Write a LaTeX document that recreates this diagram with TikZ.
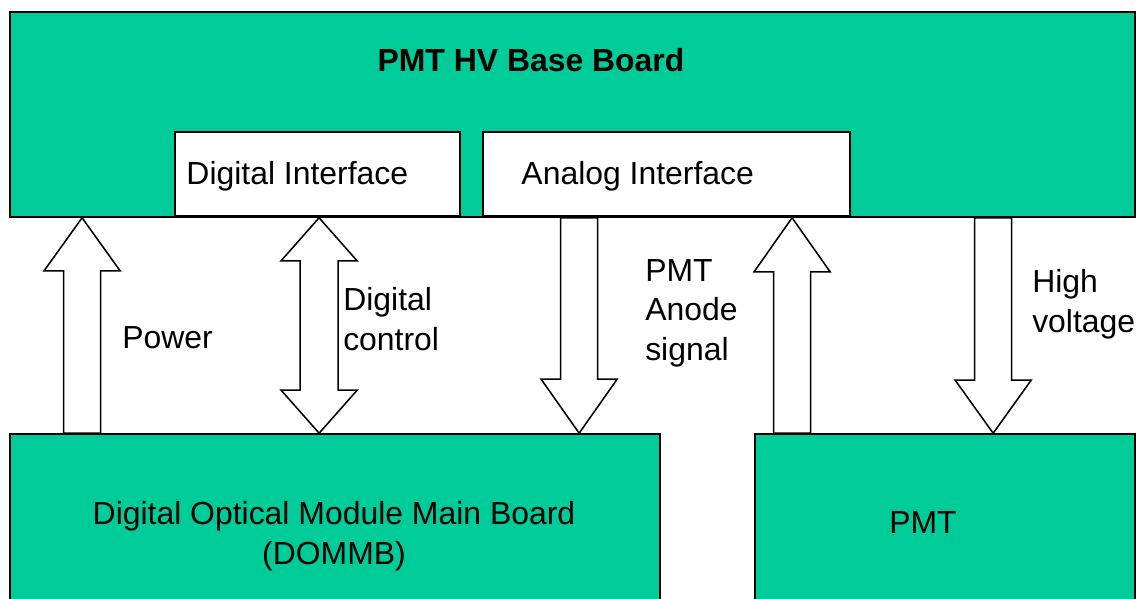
\documentclass[tikz,border=0pt]{standalone}
\usepackage{fontspec}
\setmainfont{Liberation Sans}
\usetikzlibrary{calc}
\definecolor{boardgreen}{RGB}{0,204,153}

% block arrow from #1 (flat end) to #2 (tip), head length #3
\newcommand{\blockarr}[3]{%
  \coordinate (hb) at ($(#2)!#3!(#1)$);
  \draw[blockarrow] ($(#1)+(-18.5,0)$) -- ($(hb)+(-18.5,0)$) -- ($(hb)+(-38,0)$) -- (#2)
    -- ($(hb)+(38,0)$) -- ($(hb)+(18.5,0)$) -- ($(#1)+(18.5,0)$) -- cycle;}
% double block arrow between tips #1 and #2
\newcommand{\blockdbl}[3]{%
  \coordinate (ha) at ($(#1)!#3!(#2)$);
  \coordinate (hb) at ($(#2)!#3!(#1)$);
  \draw[blockarrow] (#1) -- ($(ha)+(38,0)$) -- ($(ha)+(19,0)$) -- ($(hb)+(19,0)$) -- ($(hb)+(38,0)$)
    -- (#2) -- ($(hb)+(-38,0)$) -- ($(hb)+(-19,0)$) -- ($(ha)+(-19,0)$) -- ($(ha)+(-38,0)$) -- cycle;}

\tikzset{
  board/.style={draw, line width=1.1pt, fill=boardgreen, rectangle, inner sep=0pt},
  iface/.style={draw, line width=1.1pt, fill=white, rectangle, inner sep=0pt},
  txt/.style={font=\fontsize{22.7}{28.2}\selectfont, inner sep=0pt, align=left},
  blockarrow/.style={draw, line width=1.1pt, fill=white, line join=miter}
}

\begin{document}
\begin{tikzpicture}[x=0.025cm, y=0.025cm]

    \useasboundingbox (0,0) rectangle (1140,599);

    % Boards
    \node[board, minimum width=28.125cm, minimum height=5.125cm] (board) at (572.5,484.5) {};
    \node[iface, minimum width=7.125cm, minimum height=2.1cm] (digif) at (317.5,425) {};
    \node[iface, minimum width=9.175cm, minimum height=2.1cm] (anaif) at (666.5,425) {};
    \node[board, minimum width=16.25cm, minimum height=4.375cm] (dommb) at (335,77.5) {};
    \node[board, minimum width=9.5cm, minimum height=4.375cm] (pmt) at (945,77.5) {};

    % Board texts
    \node[txt, font=\fontsize{22.7}{28.2}\selectfont\bfseries] (title) at (531,539) {PMT HV Base Board};
    \node[txt, anchor=west] (digtxt) at ($(digif.west)+(12,-2)$) {Digital Interface};
    \node[txt, anchor=west] (anatxt) at ($(anaif.west)+(39,-2)$) {Analog Interface};
    \node[txt, align=center] (dommbtxt) at (334,63) {Digital Optical Module Main Board\\(DOMMB)};
    \node[txt] (pmttxt) at (923,76) {PMT};

    % Arrow end points
    \coordinate (pwrtop) at ($(board.south west)+(73,0)$);
    \coordinate (pwrbot) at ($(dommb.north west)+(73,0)$);
    \coordinate (dcttop) at ($(board.south west)+(310,0)$);
    \coordinate (dctbot) at ($(dommb.north west)+(310,0)$);
    \coordinate (anotop) at ($(board.south west)+(570,0)$);
    \coordinate (anobot) at ($(dommb.north west)+(570,0)$);
    \coordinate (rettop) at ($(board.south west)+(783,0)$);
    \coordinate (retbot) at ($(pmt.north west)+(38,0)$);
    \coordinate (hvtop) at ($(board.south west)+(984,0)$);
    \coordinate (hvbot) at ($(pmt.north west)+(239,0)$);

    % Block arrows
    \blockarr{pwrbot}{pwrtop}{1.325cm}   % Power
    \blockdbl{dcttop}{dctbot}{1.075cm}   % Digital control
    \blockarr{anotop}{anobot}{1.35cm}    % Anode signal
    \blockarr{retbot}{rettop}{1.35cm}    % PMT to analog interface
    \blockarr{hvtop}{hvbot}{1.325cm}     % High voltage

    % Arrow labels
    \node[txt, anchor=west] (pwrtxt) at (122,261) {Power};
    \node[txt, anchor=west] (dcttxt) at (343,280) {Digital\\control};
    \node[txt, anchor=west] (anotxt) at (645,286) {PMT\\Anode\\signal};
    \node[txt, anchor=west] (hvtxt) at (1032,295) {High\\voltage};

\end{tikzpicture}
\end{document}
